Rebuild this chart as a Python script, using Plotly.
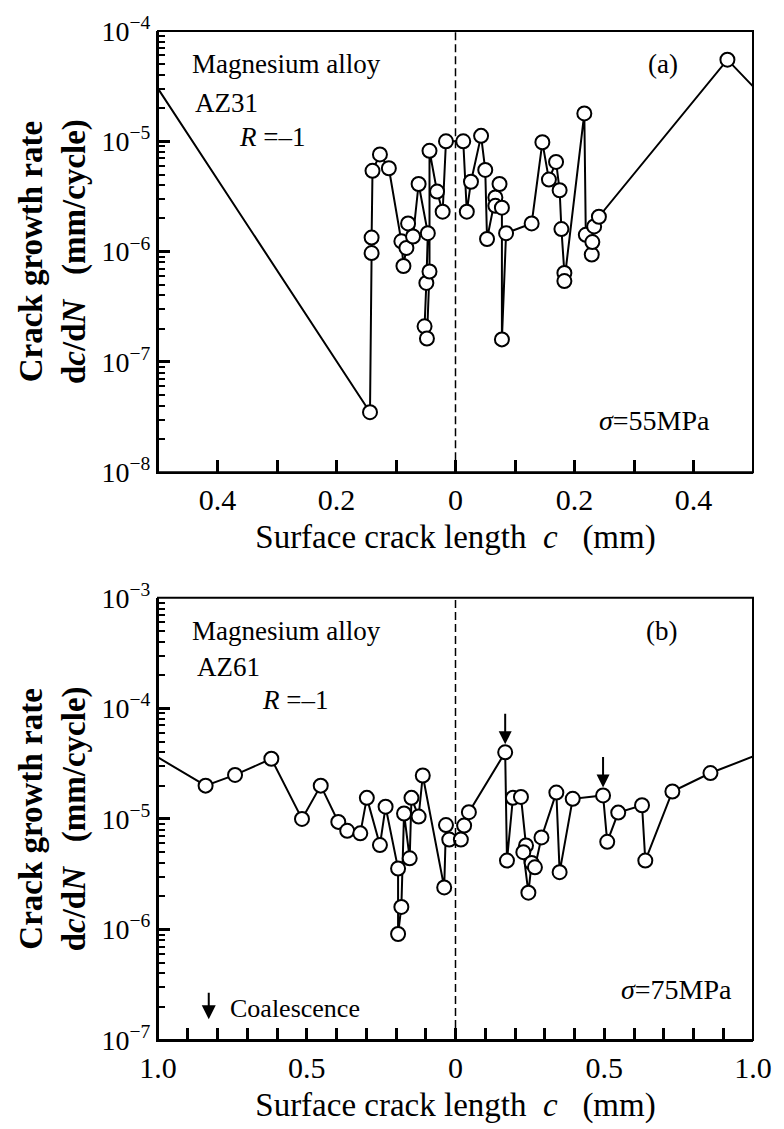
import plotly.graph_objects as go
import math

# ---------------- data: panel (a) AZ31, sigma = 55 MPa ----------------
# signed crack length: left crack tip negative, right tip positive (mm)
a_c = [-0.5, -0.1437, -0.141, -0.141, -0.1395, -0.127, -0.112, -0.091, -0.0875,
       -0.0825, -0.0797, -0.0714, -0.062, -0.0465, -0.049, -0.052, -0.048, -0.0437,
       -0.0437, -0.031, -0.0216, -0.016, 0.013, 0.019, 0.026, 0.043, 0.050, 0.053,
       0.067, 0.074, 0.067, 0.078, 0.078, 0.085, 0.128, 0.146, 0.157, 0.169, 0.175,
       0.178, 0.183, 0.183, 0.2165, 0.219, 0.229, 0.230, 0.233, 0.241, 0.457, 0.5]
a_rate = [3.0e-5, 3.5e-8, 9.7e-7, 1.34e-6, 5.4e-6, 7.6e-6, 5.7e-6, 1.24e-6, 7.4e-7,
          1.08e-6, 1.8e-6, 1.37e-6, 4.1e-6, 1.47e-6, 5.2e-7, 2.1e-7, 1.63e-7, 6.6e-7,
          8.2e-6, 3.5e-6, 2.3e-6, 1.0e-5, 1.0e-5, 2.3e-6, 4.3e-6, 1.12e-5, 5.5e-6, 1.3e-6,
          3.1e-6, 4.1e-6, 2.6e-6, 2.5e-6, 1.6e-7, 1.47e-6, 1.8e-6, 9.8e-6, 4.5e-6, 6.5e-6,
          3.6e-6, 1.6e-6, 6.4e-7, 5.4e-7, 1.79e-5, 1.42e-6, 9.4e-7, 1.22e-6, 1.69e-6,
          2.07e-6, 5.5e-5, 3.15e-5]

# ---------------- data: panel (b) AZ61, sigma = 75 MPa ----------------
b_c = [-1.0, -0.84, -0.741, -0.619, -0.516, -0.453, -0.394, -0.364, -0.320, -0.298,
       -0.254, -0.235, -0.193, -0.193, -0.182, -0.173, -0.154, -0.148, -0.124, -0.110,
       -0.038, -0.032, -0.021, 0.018, 0.029, 0.045, 0.167, 0.173, 0.193, 0.220, 0.237,
       0.228, 0.245, 0.256, 0.267, 0.289, 0.339, 0.350, 0.394, 0.496, 0.510, 0.547,
       0.627, 0.638, 0.729, 0.857, 1.0]
b_rate = [3.6e-5, 2.0e-5, 2.5e-5, 3.5e-5, 1.0e-5, 2.0e-5, 9.4e-6, 7.8e-6, 7.4e-6, 1.55e-5,
          5.8e-6, 1.29e-5, 3.56e-6, 9.1e-7, 1.6e-6, 1.12e-5, 4.4e-6, 1.55e-5, 1.05e-5, 2.47e-5,
          2.4e-6, 8.8e-6, 6.5e-6, 6.5e-6, 8.7e-6, 1.15e-5, 4.0e-5, 4.2e-6, 1.55e-5, 1.58e-5,
          5.75e-6, 5.0e-6, 2.15e-6, 4.0e-6, 3.65e-6, 6.8e-6, 1.73e-5, 3.3e-6, 1.52e-5, 1.63e-5,
          6.2e-6, 1.14e-5, 1.33e-5, 4.2e-6, 1.77e-5, 2.6e-5, 3.67e-5]
b_coalescence = [26, 39]   # indices of points marked by arrows

# tick definitions
a_xticks = [-0.5, -0.4, -0.3, -0.2, -0.1, 0.0, 0.1, 0.2, 0.3, 0.4, 0.5]
a_xlabels = ["", "0.4", "", "0.2", "", "0", "", "0.2", "", "0.4", ""]
b_xticks = [-1.0, -0.9, -0.8, -0.7, -0.6, -0.5, -0.4, -0.3, -0.2, -0.1, 0.0,
            0.1, 0.2, 0.3, 0.4, 0.5, 0.6, 0.7, 0.8, 0.9, 1.0]
b_xlabels = ["1.0", "", "", "", "", "0.5", "", "", "", "", "0",
             "", "", "", "", "0.5", "", "", "", "", "1.0"]
a_yexp = [-8, -7, -6, -5, -4]
b_yexp = [-7, -6, -5, -4, -3]
minor_digits = [2, 3, 4, 5, 6, 7, 8, 9]

FONT = "Liberation Serif"
W, H = 784, 1129
L, R, T, B = 158, 25, 24, 85
ph = H - T - B
a_dom = [(1044 - 470) / ph, 1.0]
b_dom = [0.0, (1044 - 597) / ph]

fig = go.Figure()

line_style = dict(color="black", width=2)
marker_style = dict(symbol="circle", size=14, color="white",
                    line=dict(color="black", width=2))

for cs, rs, xa, ya in [(a_c, a_rate, "x", "y"), (b_c, b_rate, "x2", "y2")]:
    fig.add_trace(go.Scatter(x=cs, y=rs, mode="lines", line=line_style,
                             xaxis=xa, yaxis=ya, showlegend=False, hoverinfo="skip"))
    fig.add_trace(go.Scatter(x=cs[1:-1], y=rs[1:-1], mode="markers", marker=marker_style,
                             xaxis=xa, yaxis=ya, showlegend=False))

titlefont = dict(family=FONT, size=33, color="black")
ytitle = "<b>Crack growth rate</b><br><b>d<i>c</i>/d<i>N</i>   (mm/cycle)</b>"
xtitle = "Surface crack length  <i>c</i>   (mm)"

def xaxis(rng, vals, labels, anchor):
    return dict(range=rng, tickmode="array", tickvals=vals, ticktext=labels,
                ticks="inside", ticklen=12, tickwidth=3, tickcolor="black",
                showline=True, linewidth=2, linecolor="black", mirror=False,
                showgrid=False, zeroline=False, anchor=anchor, layer="above traces",
                tickfont=dict(family=FONT, size=30, color="black"),
                title=dict(text=xtitle, font=titlefont, standoff=10))

def yaxis(exps, dom, anchor):
    return dict(type="log", range=[exps[0], exps[-1]], domain=dom,
                tickmode="array", tickvals=[10.0 ** e for e in exps],
                ticktext=["10<sup>\u2212%d</sup>" % (-e) for e in exps],
                ticks="inside", ticklen=12, tickwidth=3, tickcolor="black",
                minor=dict(tickmode="array",
                           tickvals=[d * 10.0 ** e for e in exps[:-1] for d in minor_digits],
                           ticks="inside", ticklen=7, tickwidth=2, tickcolor="black",
                           showgrid=False),
                showline=True, linewidth=2, linecolor="black", mirror=False,
                showgrid=False, zeroline=False, anchor=anchor, layer="above traces",
                tickfont=dict(family=FONT, size=28, color="black"),
                title=dict(text=ytitle, font=dict(family=FONT, size=33, color="black"),
                           standoff=6))

fig.update_layout(
    width=W, height=H,
    margin=dict(l=L, r=R, t=T, b=B),
    paper_bgcolor="white", plot_bgcolor="white",
    font=dict(family=FONT, color="black"),
    xaxis=xaxis([-0.5, 0.5], a_xticks, a_xlabels, "y"),
    yaxis=yaxis(a_yexp, a_dom, "x"),
    xaxis2=xaxis([-1.0, 1.0], b_xticks, b_xlabels, "y2"),
    yaxis2=yaxis(b_yexp, b_dom, "x2"),
)

# frame of each panel and dashed centre line (crack initiation point c = 0)
for xr, yr in [("x", "y domain"), ("x2", "y2 domain")]:
    fig.add_shape(type="rect", xref=xr + " domain", yref=yr, x0=0, x1=1, y0=0, y1=1,
                  line=dict(color="black", width=2), fillcolor="rgba(0,0,0,0)", layer="above")
    fig.add_shape(type="line", xref=xr, yref=yr, x0=0, x1=0, y0=0, y1=1,
                  line=dict(color="black", width=1.5, dash="8px,4px"))

def note(text, x, y, xr, yr, xanchor="left", size=27):
    fig.add_annotation(text=text, x=x, y=y, xref=xr, yref=yr, showarrow=False,
                       xanchor=xanchor, yanchor="middle",
                       font=dict(family=FONT, size=size, color="black"))

note("Magnesium alloy", 0.054, 0.925, "x domain", "y domain")
note("AZ31", 0.059, 0.836, "x domain", "y domain")
note("<i>R</i> =\u20131", 0.133, 0.760, "x domain", "y domain")
note("(a)", 0.849, 0.925, "x domain", "y domain", xanchor="center")
note("<i>\u03c3</i>=55MPa", 0.738, 0.117, "x domain", "y domain", size=28)

note("Magnesium alloy", 0.054, 0.925, "x2 domain", "y2 domain")
note("AZ61", 0.062, 0.843, "x2 domain", "y2 domain")
note("<i>R</i> =\u20131", 0.172, 0.770, "x2 domain", "y2 domain")
note("(b)", 0.847, 0.925, "x2 domain", "y2 domain", xanchor="center")
note("<i>\u03c3</i>=75MPa", 0.775, 0.114, "x2 domain", "y2 domain", size=28)
note("Coalescence", 0.117, 0.072, "x2 domain", "y2 domain", size=26)

# legend arrow for coalescence
fig.add_annotation(x=0.0853, y=0.047, xref="x2 domain", yref="y2 domain", text="",
                   showarrow=True, ax=0, ay=-28, arrowhead=2, arrowsize=1.4,
                   arrowwidth=2, arrowcolor="black")

# arrows at coalescence points
for i in b_coalescence:
    fig.add_annotation(x=b_c[i], y=math.log10(b_rate[i]), xref="x2", yref="y2", text="",
                       showarrow=True, ax=0, ay=-40, standoff=8, arrowhead=2,
                       arrowsize=1.3, arrowwidth=2, arrowcolor="black")

fig.write_html("out.html")
